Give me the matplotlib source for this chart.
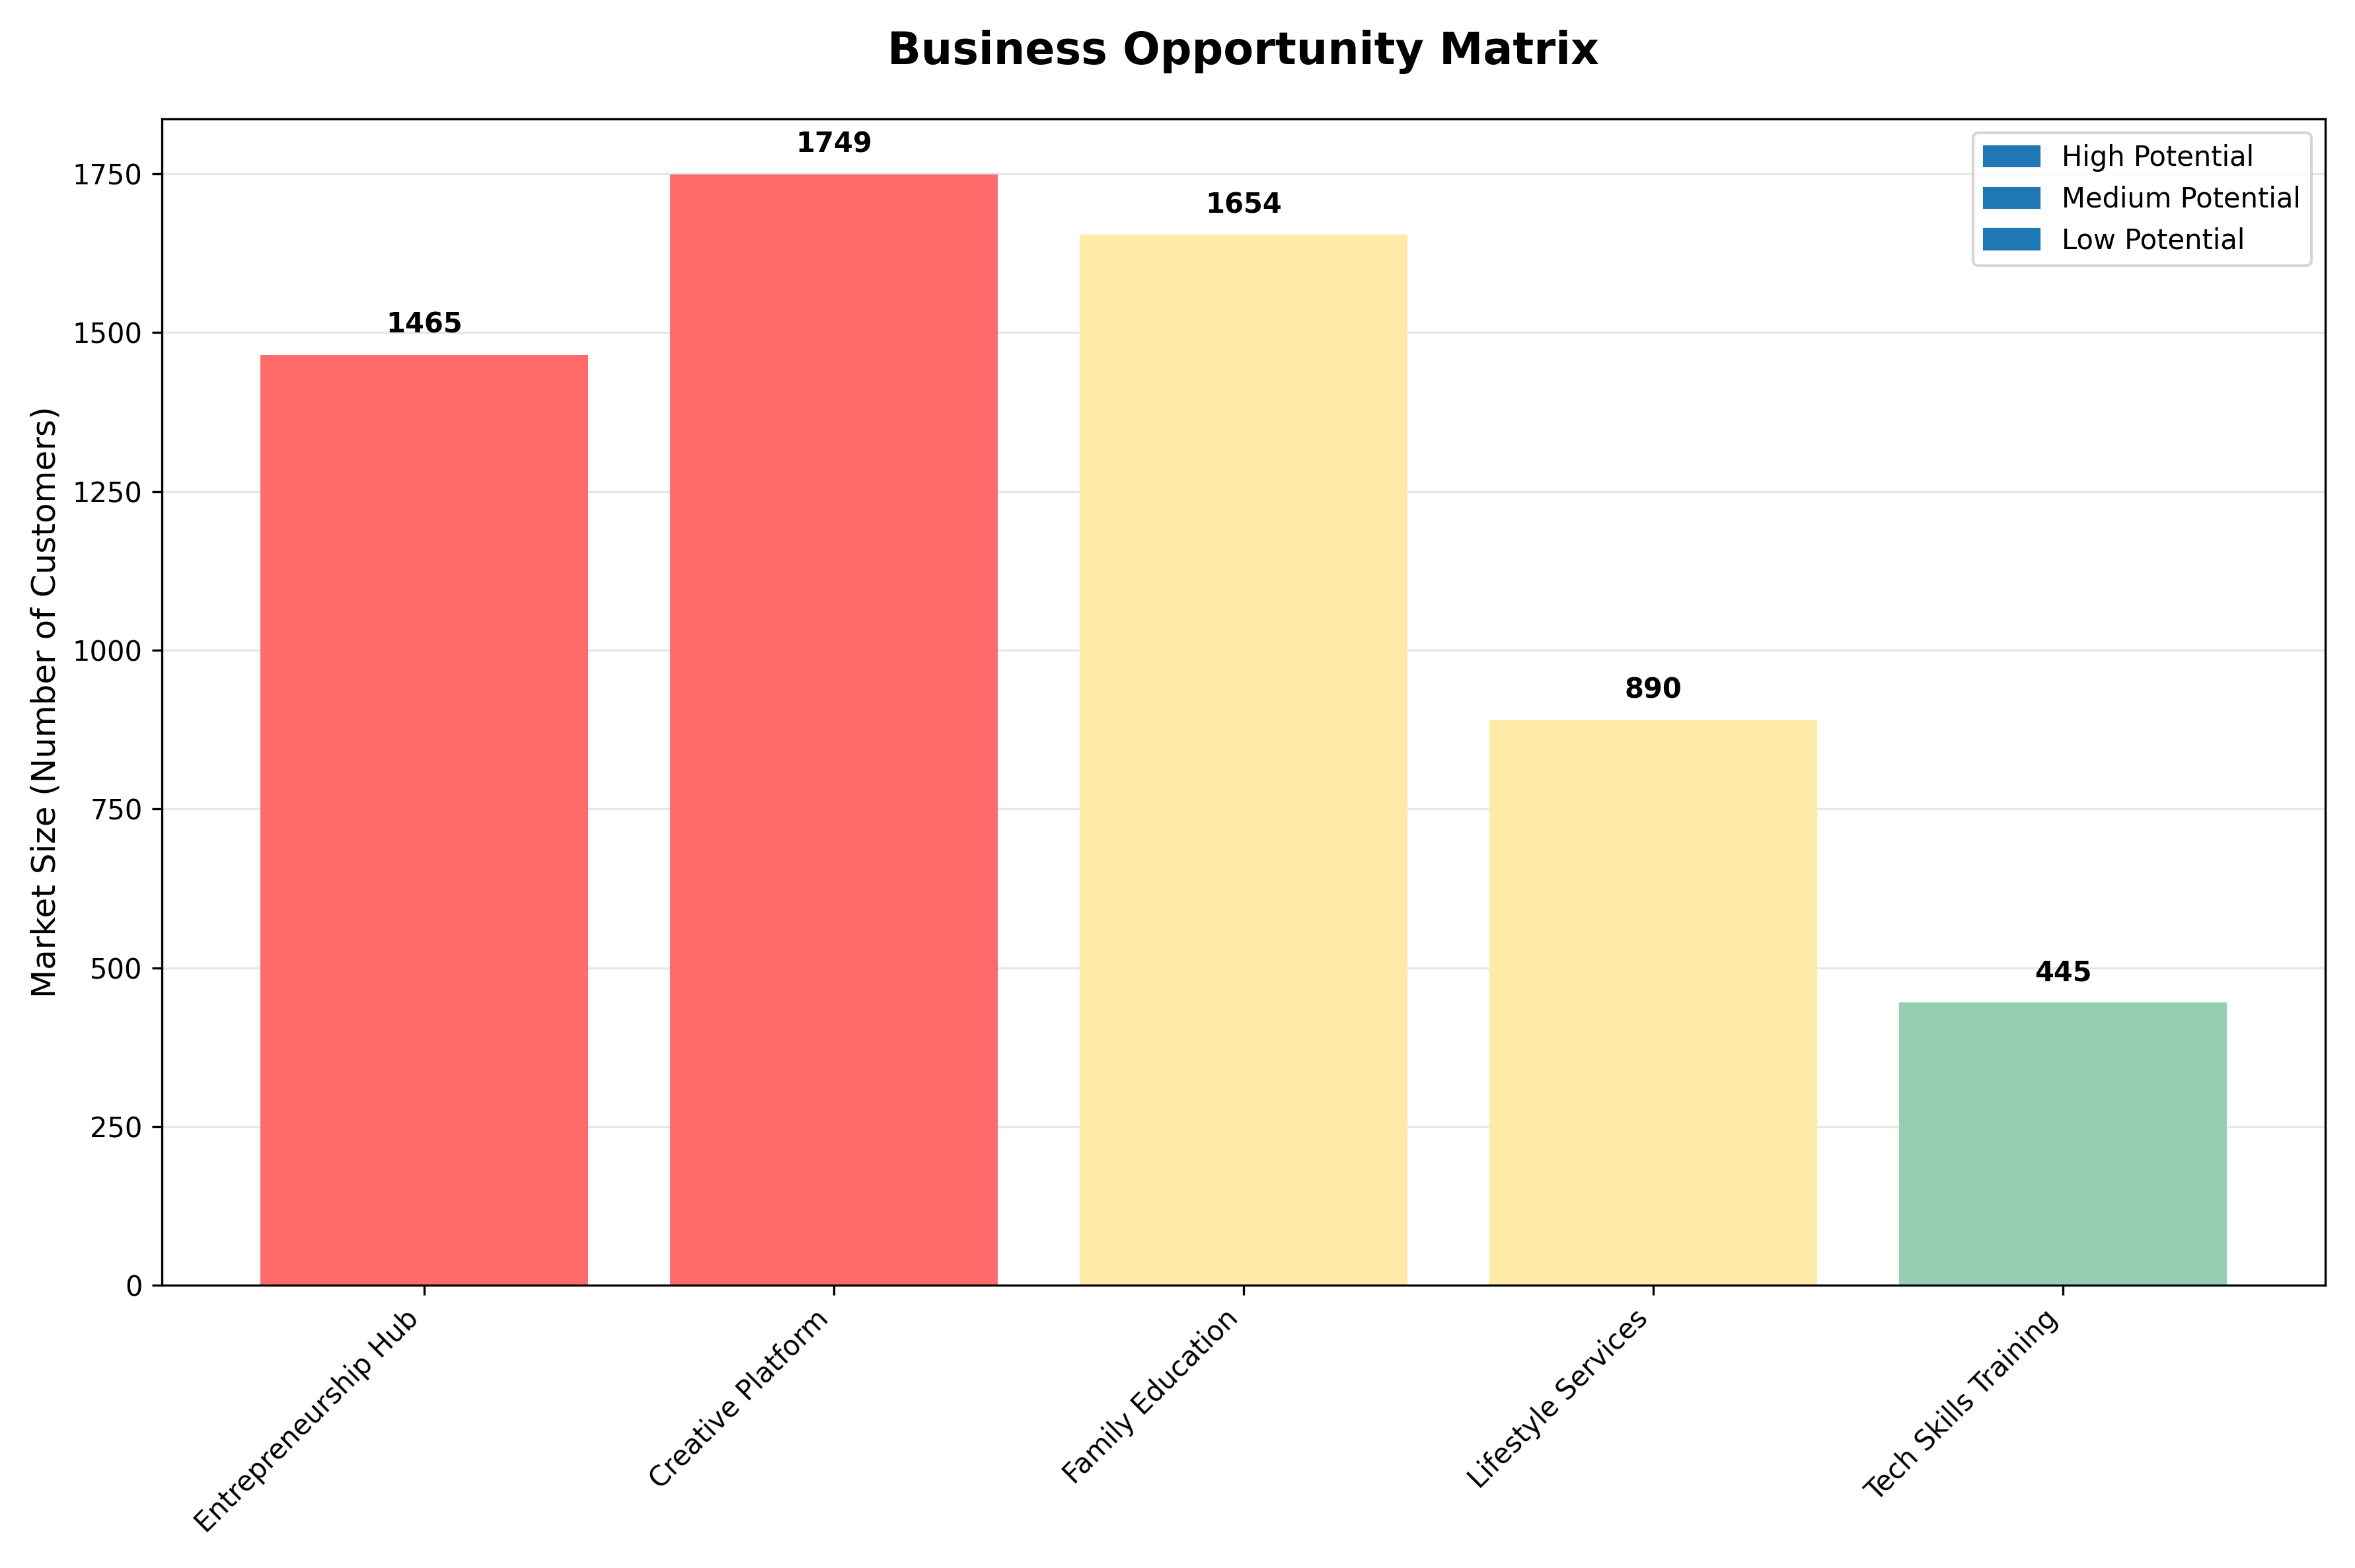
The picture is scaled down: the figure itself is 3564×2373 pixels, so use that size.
import matplotlib
matplotlib.use("Agg")
import matplotlib.pyplot as plt
from matplotlib.patches import Patch

categories = ["Entrepreneurship Hub", "Creative Platform", "Family Education", "Lifestyle Services", "Tech Skills Training"]
values = [1465, 1749, 1654, 890, 445]
colors = ["#FF6B6B", "#FF6B6B", "#FFEAA7", "#FFEAA7", "#96CEB4"]
legend_labels = ["High Potential", "Medium Potential", "Low Potential"]

fig, ax = plt.subplots(figsize=(11.88, 7.91), dpi=300)
bars = ax.bar(categories, values, color=colors, width=0.8)
for b, v in zip(bars, values):
    ax.text(b.get_x() + b.get_width()/2, v + 25, str(v), ha="center", va="bottom", fontweight="bold", fontsize=10)
ax.set_ylabel("Market Size (Number of Customers)", fontsize=12)
ax.set_title("Business Opportunity Matrix", fontsize=16, fontweight="bold", pad=20)
ax.yaxis.grid(True, alpha=0.3)
ax.set_axisbelow(True)
ax.set_ylim(0, 1836)
plt.setp(ax.get_xticklabels(), rotation=45, ha="right")
ax.legend(handles=[Patch(color="#1f77b4", label=l) for l in legend_labels], loc="upper right")
fig.tight_layout()
fig.savefig("out.png", dpi=300)
